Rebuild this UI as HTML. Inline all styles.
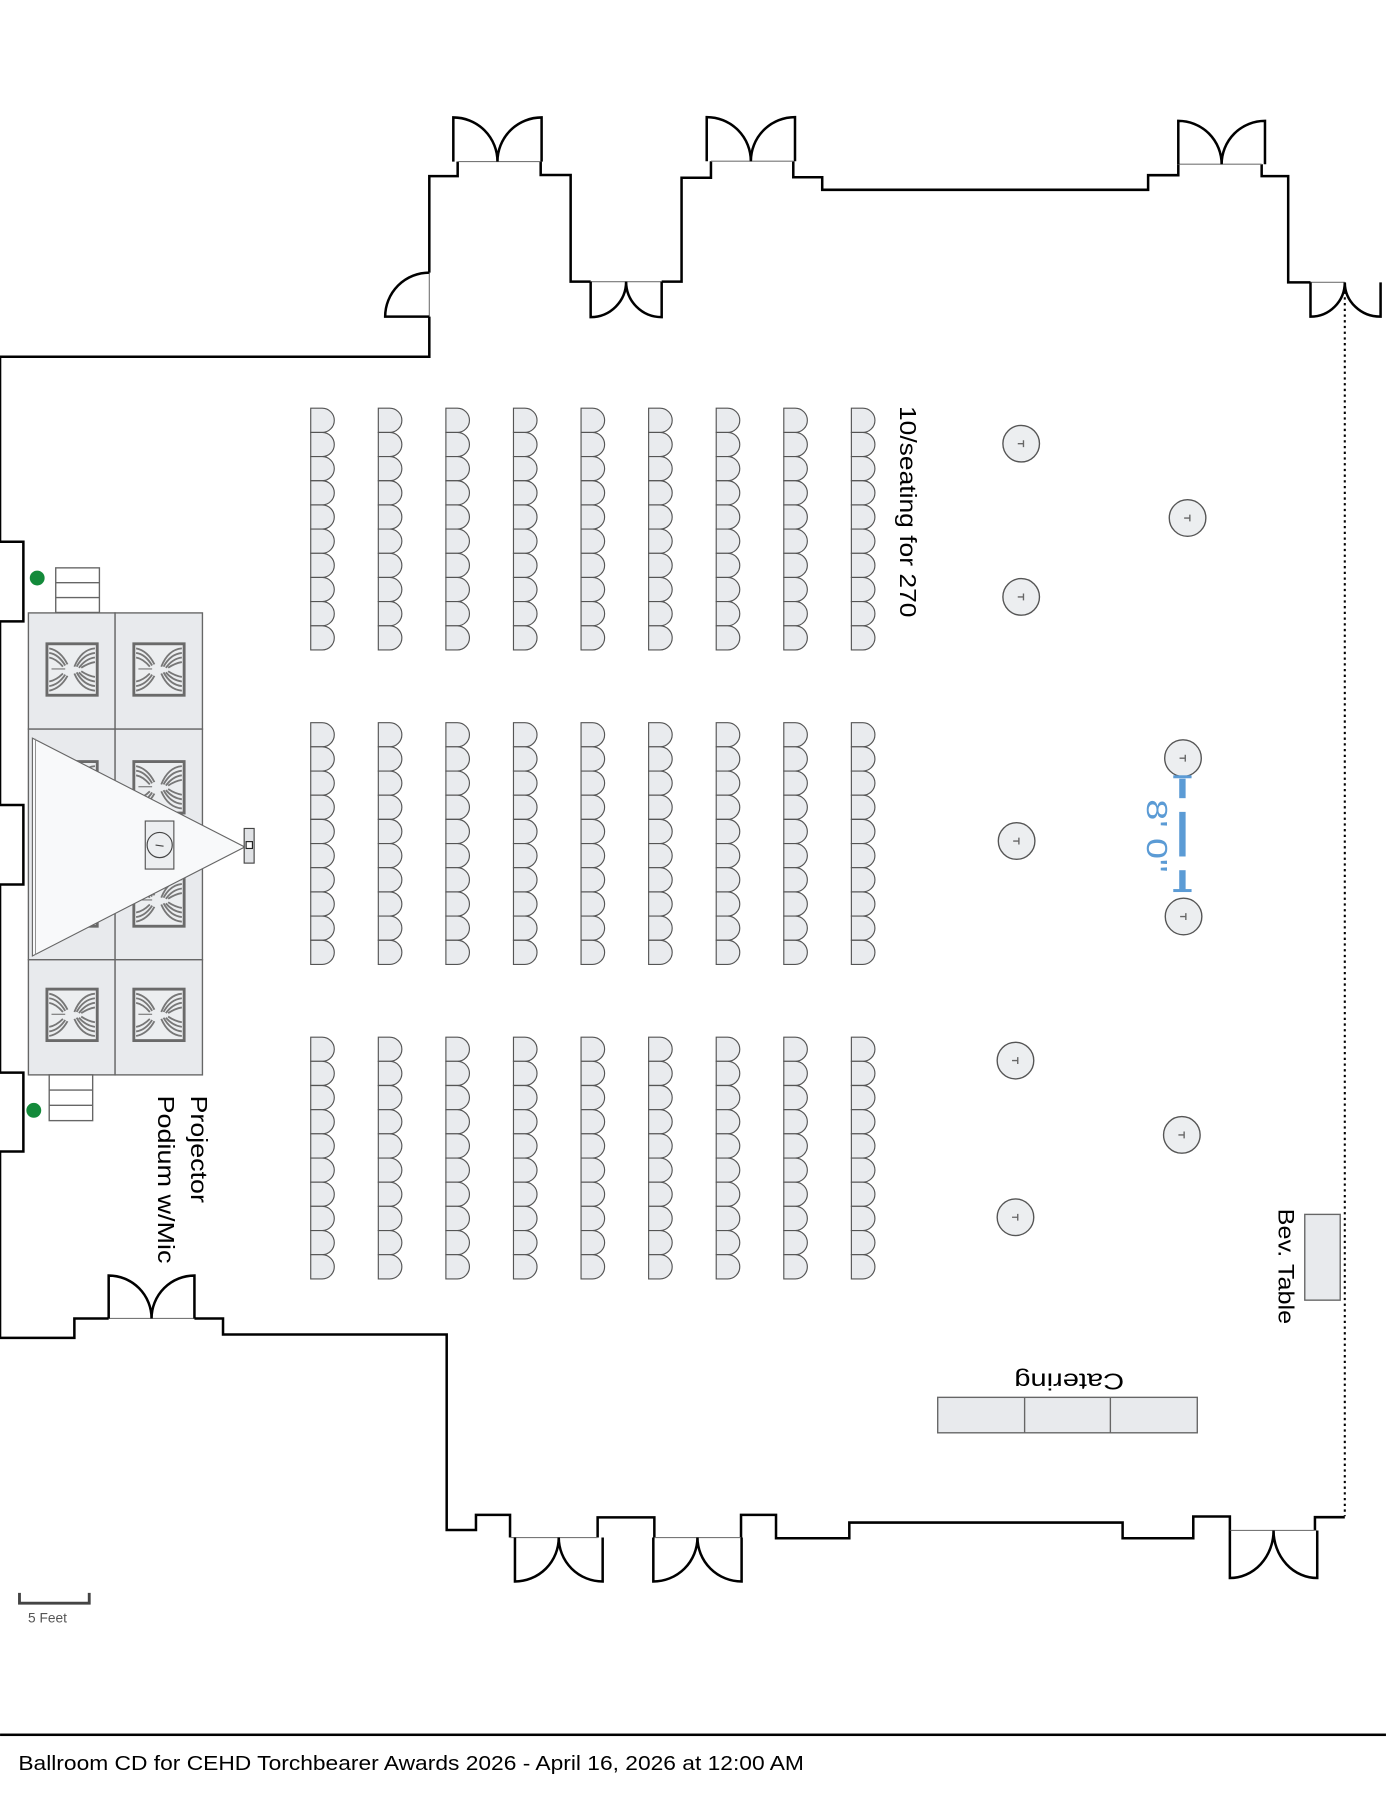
<!DOCTYPE html>
<html><head><meta charset="utf-8"><style>
html,body{margin:0;padding:0;background:#fff;}
svg{display:block;}
text{font-family:"Liberation Sans","DejaVu Sans",sans-serif;}
</style></head><body>
<svg width="1386" height="1793" viewBox="0 0 1212 1568" xmlns="http://www.w3.org/2000/svg">
<defs>
  <path id="chair" d="M0,0 h10 a10.6,10.57 0 0 1 0,21.14 h-10 z" fill="#e9ebee" stroke="#555" stroke-width="1"/>
  <g id="col">
    <use href="#chair" y="0"/><use href="#chair" y="21.14"/><use href="#chair" y="42.28"/><use href="#chair" y="63.42"/><use href="#chair" y="84.56"/>
    <use href="#chair" y="105.7"/><use href="#chair" y="126.84"/><use href="#chair" y="147.98"/><use href="#chair" y="169.12"/><use href="#chair" y="190.26"/>
  </g>
  <g id="row">
    <use href="#col" x="0"/><use href="#col" x="59.1"/><use href="#col" x="118.2"/><use href="#col" x="177.3"/><use href="#col" x="236.4"/>
    <use href="#col" x="295.5"/><use href="#col" x="354.6"/><use href="#col" x="413.7"/><use href="#col" x="472.8"/>
  </g>
  <g id="curt">
    <rect x="0" y="0" width="44" height="45" fill="#eceef0" stroke="#6a6a6a" stroke-width="2.5"/>
    <g fill="none" stroke="#777" stroke-width="1.6">
      <path d="M2,4 Q12,6 18,18"/><path d="M2,8 Q10,9 16,19"/><path d="M2,12 Q8,13 14,20"/>
      <path d="M42,4 Q30,5 24,20"/><path d="M42,8 Q32,9 26,20"/><path d="M42,12 Q34,13 28,21"/><path d="M42,16 Q36,17 30,21"/>
      <path d="M2,41 Q12,39 18,28"/><path d="M2,37 Q10,36 16,27"/><path d="M2,33 Q8,32 14,26"/>
      <path d="M42,41 Q30,40 24,26"/><path d="M42,37 Q32,36 26,25"/><path d="M42,33 Q34,32 28,25"/><path d="M42,29 Q36,28 30,24"/>
      <path d="M4,22 H16" stroke-width="1"/>
    </g>
  </g>
  <g id="tbl">
    <circle r="16" fill="#eceef0" stroke="#555" stroke-width="1.2"/>
    <path d="M-3,0 H2 M2,-3 V3" stroke="#666" stroke-width="1.2"/>
  </g>
</defs>

<!-- walls -->
<g fill="none" stroke="#000" stroke-width="2.2" stroke-linejoin="miter">
  <path d="M375.4,238.4 L375.4,154 L400.2,154 L400.2,141.3"/>
  <path d="M472.8,141.3 L472.8,153 L499,153 L499,246.3 L516.5,246.3"/>
  <path d="M578.6,246.3 L596,246.3 L596,155.4 L621.7,155.4 L621.7,141"/>
  <path d="M693.7,141 L693.7,155 L719,155 L719,166 L1004,166 L1004,153.2 L1030.4,153.2 L1030.4,143.6"/>
  <path d="M1103.3,143.6 L1103.3,154 L1126.5,154 L1126.5,246.9 L1146,246.9"/>
  <path d="M1149.9,1338.4 L1149.9,1326.8 L1176,1326.8"/>
  <path d="M1075.5,1338.4 L1075.5,1326.2 L1043.5,1326.2 L1043.5,1345.2 L981.7,1345.2 L981.7,1331.5 L742.7,1331.5 L742.7,1345.2 L678.6,1345.2 L678.6,1324.8 L648,1324.8 L648,1344.6"/>
  <path d="M572.2,1344.6 L572.2,1327 L522.6,1327 L522.6,1344.6"/>
  <path d="M446,1344.6 L446,1324.8 L416.2,1324.8 L416.2,1338 L390.6,1338 L390.6,1167 L195,1167 L195,1153 L170,1153"/>
  <path d="M95,1153 L65,1153 L65,1170 L0,1170 L0,1007 L20.4,1007 L20.4,938 L0,938 L0,773.5 L20.4,773.5 L20.4,704 L0,704 L0,543.4 L20.4,543.4 L20.4,473.8 L0,473.8 L0,312 L375.4,312 L375.4,276.9"/>
</g>
<!-- thin openings -->
<g stroke="#777" stroke-width="1">
  <line x1="375.4" y1="238.4" x2="375.4" y2="276.9"/>
  <line x1="400.2" y1="141.3" x2="472.8" y2="141.3"/>
  <line x1="516.5" y1="246.3" x2="578.6" y2="246.3"/>
  <line x1="621.7" y1="141" x2="693.7" y2="141"/>
  <line x1="1030.4" y1="143.6" x2="1103.3" y2="143.6"/>
  <line x1="1146" y1="246.9" x2="1176" y2="246.9"/>
  <line x1="1075.5" y1="1338.4" x2="1149.9" y2="1338.4"/>
  <line x1="572.2" y1="1344.6" x2="648" y2="1344.6"/>
  <line x1="446" y1="1344.6" x2="522.6" y2="1344.6"/>
  <line x1="95" y1="1153" x2="170" y2="1153"/>
</g>
<line x1="1176" y1="250" x2="1176" y2="1326" stroke="#000" stroke-width="1.8" stroke-dasharray="2,3"/>
<!-- doors -->
<g fill="none" stroke="#000" stroke-width="2.2">
  <path d="M396.4,141.3 L396.4,102.7 A38.6,38.6 0 0 1 435,141.3 A38.6,38.6 0 0 1 473.6,102.7 L473.6,141.3"/>
  <path d="M618,141 L618,102.4 A38.6,38.6 0 0 1 656.6,141 A38.6,38.6 0 0 1 695.2,102.4 L695.2,141"/>
  <path d="M1030.4,143.6 L1030.4,105.7 A37.9,37.9 0 0 1 1068.3,143.6 A37.9,37.9 0 0 1 1106.2,105.7 L1106.2,143.6"/>
  <path d="M516.5,246.3 L516.5,277.3 A31,31 0 0 0 547.5,246.3 A31,31 0 0 0 578.6,277.3 L578.6,246.3"/>
  <path d="M1146,246.9 L1146,276.9 A30,30 0 0 0 1176,246.9 A31,30 0 0 0 1207.3,276.9 L1207.3,246.9"/>
  <path d="M450.3,1344.6 L450.3,1383 A38.4,38.4 0 0 0 488.6,1344.6 A38.4,38.4 0 0 0 527,1383 L527,1344.6"/>
  <path d="M571.3,1344.6 L571.3,1383 A38.6,38.6 0 0 0 609.9,1344.6 A38.6,38.6 0 0 0 648.5,1383 L648.5,1344.6"/>
  <path d="M1075.5,1338.4 L1075.5,1380 A38.2,41.6 0 0 0 1113.7,1338.4 A38.2,41.6 0 0 0 1151.9,1380 L1151.9,1338.4"/>
  <path d="M95,1153 L95,1115.5 A37.5,37.5 0 0 1 132.5,1153 A37.5,37.5 0 0 1 170,1115.5 L170,1153"/>
  <path d="M375.4,238.4 A38.6,38.5 0 0 0 336.8,276.9 L375.4,276.9"/>
</g>

<!-- stage -->
<g fill="#e8eaed" stroke="#666" stroke-width="1.2">
  <rect x="24.8" y="536" width="75.8" height="101.6"/>
  <rect x="100.6" y="536" width="76.4" height="101.6"/>
  <rect x="24.8" y="637.6" width="75.8" height="201.7"/>
  <rect x="100.6" y="637.6" width="76.4" height="201.7"/>
  <rect x="24.8" y="839.3" width="75.8" height="100.7"/>
  <rect x="100.6" y="839.3" width="76.4" height="100.7"/>
</g>
<use href="#curt" x="41" y="563"/><use href="#curt" x="117" y="563"/>
<use href="#curt" x="41" y="666"/><use href="#curt" x="117" y="666"/>
<use href="#curt" x="41" y="765"/><use href="#curt" x="117" y="765"/>
<use href="#curt" x="41" y="865"/><use href="#curt" x="117" y="865"/>
<!-- steps -->
<g fill="#fff" stroke="#666" stroke-width="1.2">
  <rect x="48.7" y="496.6" width="38.2" height="39"/>
  <line x1="48.7" y1="509.6" x2="86.9" y2="509.6"/><line x1="48.7" y1="522.6" x2="86.9" y2="522.6"/>
  <rect x="43" y="940" width="38" height="40"/>
  <line x1="43" y1="953.3" x2="81" y2="953.3"/><line x1="43" y1="966.6" x2="81" y2="966.6"/>
</g>
<circle cx="32.5" cy="505.5" r="6.5" fill="#138a3a"/>
<circle cx="29.5" cy="971" r="6.5" fill="#138a3a"/>
<!-- projection triangle -->
<polygon points="28.3,645.5 214,740.7 28.3,836" fill="#f8f9fa" stroke="#666" stroke-width="1"/>
<line x1="31" y1="646" x2="31" y2="835" stroke="#888" stroke-width="0.8"/>
<rect x="127" y="718" width="25" height="42" fill="#eceef0" stroke="#555" stroke-width="1"/>
<circle cx="139.6" cy="739" r="11" fill="none" stroke="#444" stroke-width="1"/>
<path d="M136,739 L143,740" stroke="#444" stroke-width="1"/>
<rect x="213.5" y="724.5" width="8.7" height="30.3" fill="#e0e2e5" stroke="#444" stroke-width="1"/>
<rect x="215.2" y="736" width="5.5" height="6" fill="#fff" stroke="#222" stroke-width="1"/>

<!-- chairs -->
<use href="#row" x="271.7" y="357"/>
<use href="#row" x="271.7" y="632"/>
<use href="#row" x="271.7" y="907"/>

<!-- cocktail tables -->
<use href="#tbl" x="893" y="388"/><use href="#tbl" x="1038.5" y="453"/><use href="#tbl" x="893" y="522"/>
<use href="#tbl" x="1034.5" y="663"/><use href="#tbl" x="889" y="735.5"/><use href="#tbl" x="1035" y="801.5"/>
<use href="#tbl" x="888" y="927.5"/><use href="#tbl" x="1033.5" y="992.5"/><use href="#tbl" x="888" y="1064.5"/>

<!-- dimension -->
<g fill="#5b9bd5">
  <rect x="1031.2" y="681" width="5.6" height="17"/>
  <rect x="1026" y="678" width="16" height="2.6"/>
  <rect x="1031.2" y="710" width="5.6" height="39"/>
  <rect x="1031.2" y="761" width="5.6" height="17"/>
  <rect x="1026" y="777.5" width="16" height="2.6"/>
</g>
<text transform="translate(1003,699) rotate(90)" font-size="25" fill="#5b9bd5" textLength="64" lengthAdjust="spacingAndGlyphs">8' 0"</text>

<!-- tables -->
<g fill="#e8eaed" stroke="#666" stroke-width="1.2">
  <rect x="820" y="1222" width="227" height="31"/>
  <line x1="896" y1="1222" x2="896" y2="1253"/><line x1="971" y1="1222" x2="971" y2="1253"/>
  <rect x="1141" y="1062" width="31" height="75"/>
</g>

<!-- labels -->
<text transform="translate(787,355) rotate(90)" font-size="20" fill="#000" textLength="185" lengthAdjust="spacingAndGlyphs">10/seating for 270</text>
<text transform="translate(167,958) rotate(90)" font-size="20" fill="#000" textLength="94" lengthAdjust="spacingAndGlyphs">Projector</text>
<text transform="translate(138,958) rotate(90)" font-size="20" fill="#000" textLength="147" lengthAdjust="spacingAndGlyphs">Podium w/Mic</text>
<text transform="translate(1118,1057) rotate(90)" font-size="19" fill="#000" textLength="101" lengthAdjust="spacingAndGlyphs">Bev. Table</text>
<text transform="translate(983,1201) rotate(180)" font-size="20" fill="#000" textLength="96" lengthAdjust="spacingAndGlyphs">Catering</text>

<!-- scale -->
<path d="M17,1393 V1402 H78 V1393" fill="none" stroke="#444" stroke-width="2.5"/>
<text x="24.5" y="1419" font-size="12" fill="#555">5 Feet</text>

<!-- footer -->
<rect x="0" y="1516" width="1212" height="2.2" fill="#000"/>
<text x="16" y="1548" font-size="18" fill="#000" textLength="687" lengthAdjust="spacingAndGlyphs">Ballroom CD for CEHD Torchbearer Awards 2026 - April 16, 2026 at 12:00 AM</text>
</svg>
</body></html>
